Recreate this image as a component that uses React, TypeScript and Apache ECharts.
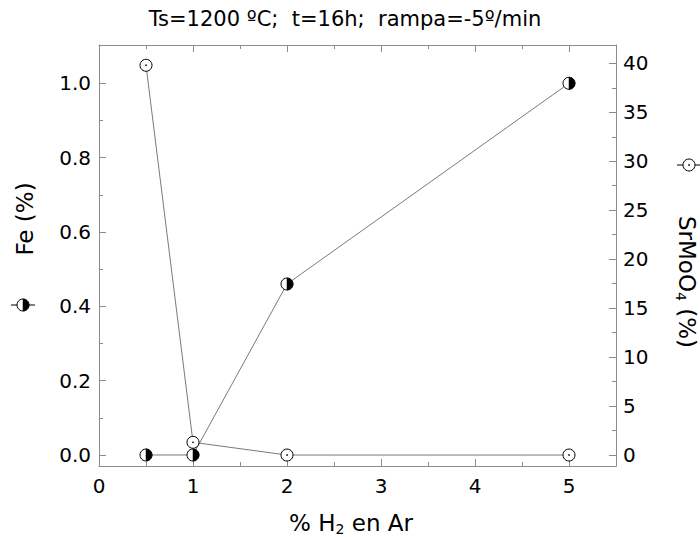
import React, { useEffect, useRef } from "react";
import * as echarts from "echarts";

const X_VALUES = [0.5, 1, 2, 5];
const FE_VALUES = [0, 0, 0.46, 1.0];
const SRMOO4_VALUES = [39.8, 1.3, 0, 0];

const X_TICKS = [0, 1, 2, 3, 4, 5];
const X_MINOR = [0.5, 1.5, 2.5, 3.5, 4.5];
const FE_TICKS = [0, 0.2, 0.4, 0.6, 0.8, 1.0];
const FE_MINOR = [0.1, 0.3, 0.5, 0.7, 0.9];
const SR_TICKS = [0, 5, 10, 15, 20, 25, 30, 35, 40];
const SR_MINOR = [2.5, 7.5, 12.5, 17.5, 22.5, 27.5, 32.5, 37.5];

const TITLE = "Ts=1200 ºC;  t=16h;  rampa=-5º/min";

const FONT = "DejaVu Sans";
const GRAY = "#8c8c8c";
const LINE_GRAY = "#7a7a7a";
const R = 6;

const X_RANGE = [0, 5.5];
const FE_RANGE = [-0.0296, 1.103];
const SR_RANGE = [-1.12, 41.87];

function halfMarker(cx: number, cy: number) {
  return [
    { type: "circle", shape: { cx, cy, r: R }, style: { fill: "#fff", stroke: "#000", lineWidth: 1 } },
    {
      type: "sector",
      shape: { cx, cy, r0: 0, r: R, startAngle: -Math.PI / 2, endAngle: Math.PI / 2, clockwise: true },
      style: { fill: "#000", stroke: "#000", lineWidth: 0.5 },
    },
  ];
}

function openMarker(cx: number, cy: number) {
  return [
    { type: "circle", shape: { cx, cy, r: R }, style: { fill: "#fff", stroke: "#000", lineWidth: 1 } },
    { type: "circle", shape: { cx, cy, r: 0.8 }, style: { fill: "#000" } },
  ];
}

function xAxisDef(position: string, ticks: number[], len: number, labels: boolean, line: boolean) {
  return {
    type: "value",
    position,
    min: X_RANGE[0],
    max: X_RANGE[1],
    axisLine: { show: line, onZero: false, lineStyle: { color: GRAY, width: 1 } },
    axisTick: { show: true, inside: true, length: len, customValues: ticks, lineStyle: { color: GRAY, width: 1 } },
    axisLabel: {
      show: labels,
      customValues: ticks,
      margin: 10,
      color: "#000",
      fontFamily: FONT,
      fontSize: 20,
    },
    splitLine: { show: false },
  };
}

function yAxisDef(
  position: string,
  range: number[],
  ticks: number[],
  len: number,
  labels: boolean,
  line: boolean,
  fmt?: (v: number) => string
) {
  return {
    type: "value",
    position,
    min: range[0],
    max: range[1],
    axisLine: { show: line, onZero: false, lineStyle: { color: GRAY, width: 1 } },
    axisTick: { show: true, inside: true, length: len, customValues: ticks, lineStyle: { color: GRAY, width: 1 } },
    axisLabel: {
      show: labels,
      customValues: ticks,
      margin: position === "left" ? 8 : 7,
      color: "#000",
      fontFamily: FONT,
      fontSize: 20,
      formatter: fmt,
    },
    splitLine: { show: false },
  };
}

export default function App() {
  const ref = useRef<HTMLDivElement>(null);

  useEffect(() => {
    if (!ref.current) return;
    const chart = echarts.init(ref.current, undefined, { renderer: "svg" });

    const feData = X_VALUES.map((x, i) => [x, FE_VALUES[i]]);
    const srData = X_VALUES.map((x, i) => [x, SRMOO4_VALUES[i]]);

    const richBase = { fontFamily: FONT, fontSize: 23, fill: "#000", color: "#000", lineHeight: 26, verticalAlign: "middle" };
    const richSub = { fontFamily: FONT, fontSize: 14, fill: "#000", color: "#000", lineHeight: 8, verticalAlign: "bottom" };

    const option: any = {
      animation: false,
      grid: { left: 99, right: 84, top: 45, bottom: 71, containLabel: false },
      xAxis: [
        xAxisDef("bottom", X_TICKS, 7, true, true),
        xAxisDef("bottom", X_MINOR, 4, false, false),
        xAxisDef("top", X_TICKS, 7, false, true),
        xAxisDef("top", X_MINOR, 4, false, false),
      ],
      yAxis: [
        yAxisDef("left", FE_RANGE, FE_TICKS, 7, true, true, (v: number) => v.toFixed(1)),
        yAxisDef("left", FE_RANGE, FE_MINOR, 4, false, false),
        yAxisDef("right", SR_RANGE, SR_TICKS, 7, true, true, (v: number) => String(v)),
        yAxisDef("right", SR_RANGE, SR_MINOR, 4, false, false),
      ],
      series: [
        {
          type: "line",
          xAxisIndex: 0,
          yAxisIndex: 2,
          data: srData,
          symbol: "none",
          lineStyle: { color: LINE_GRAY, width: 1 },
          z: 2,
        },
        {
          type: "line",
          xAxisIndex: 0,
          yAxisIndex: 0,
          data: feData,
          symbol: "none",
          lineStyle: { color: LINE_GRAY, width: 1 },
          z: 2,
        },
        {
          type: "custom",
          xAxisIndex: 0,
          yAxisIndex: 2,
          data: srData,
          encode: { x: 0, y: 1 },
          z: 3,
          renderItem: (params: any, api: any) => {
            const p = api.coord([api.value(0), api.value(1)]);
            return { type: "group", children: openMarker(p[0], p[1]) };
          },
        },
        {
          type: "custom",
          xAxisIndex: 0,
          yAxisIndex: 0,
          data: feData,
          encode: { x: 0, y: 1 },
          z: 4,
          renderItem: (params: any, api: any) => {
            const p = api.coord([api.value(0), api.value(1)]);
            return { type: "group", children: halfMarker(p[0], p[1]) };
          },
        },
      ],
      graphic: [
        {
          type: "text",
          x: 345,
          y: 19,
          style: {
            text: TITLE,
            fontFamily: FONT,
            fontSize: 21,
            fill: "#000",
            textAlign: "center",
            align: "center",
            textVerticalAlign: "middle",
            verticalAlign: "middle",
          },
        },
        {
          type: "text",
          x: 351,
          y: 523,
          style: {
            text: "{a|% H}{s|2}{a| en Ar}",
            rich: { a: richBase, s: richSub },
            textAlign: "center",
            align: "center",
            textVerticalAlign: "middle",
            verticalAlign: "middle",
          },
        },
        {
          type: "text",
          x: 25,
          y: 219,
          rotation: Math.PI / 2,
          style: {
            text: "Fe (%)",
            fontFamily: FONT,
            fontSize: 23,
            fill: "#000",
            textAlign: "center",
            align: "center",
            textVerticalAlign: "middle",
            verticalAlign: "middle",
          },
        },
        {
          type: "text",
          x: 687,
          y: 282,
          rotation: -Math.PI / 2,
          style: {
            text: "{a|SrMoO}{s|4}{a| (%)}",
            rich: { a: richBase, s: richSub },
            textAlign: "center",
            align: "center",
            textVerticalAlign: "middle",
            verticalAlign: "middle",
          },
        },
        // left legend symbol (Fe)
        { type: "line", shape: { x1: 11, y1: 305, x2: 35, y2: 305 }, style: { stroke: "#000", lineWidth: 1 } },
        ...halfMarker(23, 305).map((e: any) => ({ ...e, z: 10 })),
        // right legend symbol (SrMoO4)
        { type: "line", shape: { x1: 677, y1: 165, x2: 700, y2: 165 }, style: { stroke: "#000", lineWidth: 1 } },
        ...openMarker(689, 165).map((e: any) => ({ ...e, z: 10 })),
      ],
    };

    chart.setOption(option);
    return () => chart.dispose();
  }, []);

  return <div ref={ref} style={{ width: 700, height: 537, position: "absolute", left: 0, top: 0 }} />;
}
